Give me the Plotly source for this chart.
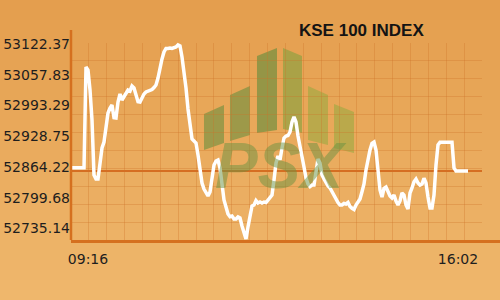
import plotly.graph_objects as go

# ---- data ----
index_values = [
    52871.14, 52871.14, 52871.14, 52871.14, 52871.14, 52871.14, 52871.14, 53082.31,
    53076.02, 53034.08, 52971.17, 52855.83, 52847.44, 52847.44, 52876.80, 52912.45,
    52925.03, 52962.78, 52985.85, 52996.33, 53002.62, 52975.99, 52975.36, 53008.91,
    53025.69, 53013.11, 53019.40, 53025.69, 53034.08, 53031.98, 53042.47, 53038.27,
    53021.50, 53009.54, 53008.91, 53019.40, 53025.69, 53029.88, 53031.98, 53033.03,
    53035.13, 53039.32, 53044.56, 53059.24, 53084.41, 53099.08, 53113.76, 53121.10,
    53121.10, 53122.15, 53121.10, 53123.20, 53124.25, 53128.44, 53126.35, 53103.28,
    53073.92, 53038.27, 52994.23, 52954.39, 52931.32, 52927.13, 52922.94, 52897.77,
    52870.51, 52839.06, 52826.47, 52818.09, 52811.79, 52820.18, 52845.35, 52876.80,
    52885.19, 52887.29, 52870.51, 52836.96, 52803.41, 52788.73, 52774.05, 52768.39,
    52769.85, 52763.56, 52763.56, 52767.76, 52765.66, 52748.88, 52732.11, 52721.62,
    52746.79, 52771.95, 52790.82, 52792.92, 52802.36, 52797.12, 52799.21, 52797.12,
    52799.21, 52798.16, 52803.41, 52806.97, 52813.89, 52845.35, 52881.00, 52895.68,
    52887.29, 52912.45, 52933.42, 52937.62, 52938.66, 52946.00, 52966.97, 52977.46,
    52966.97, 52937.62, 52912.45, 52897.77, 52872.61, 52849.54, 52836.96, 52831.72,
    52834.86, 52834.86, 52866.32, 52889.38, 52881.00, 52855.83, 52847.44, 52839.06,
    52832.76, 52828.57, 52820.81, 52812.84, 52803.41, 52798.16, 52792.92, 52792.92,
    52796.07, 52795.02, 52798.16, 52789.78, 52786.00, 52783.49, 52792.92, 52799.21,
    52805.50, 52820.81, 52836.96, 52866.32, 52889.38, 52908.26, 52922.31, 52925.03,
    52908.26, 52862.12, 52824.38, 52809.70, 52827.94, 52830.67, 52820.18, 52811.79,
    52807.60, 52813.89, 52801.31, 52792.92, 52801.31, 52818.09, 52813.89, 52792.92,
    52784.53, 52818.09, 52828.57, 52841.78, 52847.44, 52839.06, 52834.86, 52836.96,
    52848.91, 52839.06, 52809.70, 52786.63, 52786.63, 52813.89, 52876.80, 52918.74,
    52924.40, 52924.40, 52924.40, 52924.40, 52924.40, 52924.40, 52924.40, 52870.51,
    52864.22, 52864.22, 52864.22, 52864.22, 52864.22, 52864.22, 52864.22,
]
sample_index = list(range(len(index_values)))
prev_close = 52864.22
y_tick_values = [53122.37, 53057.83, 52993.29, 52928.75, 52864.22, 52799.68, 52735.14]
x_tick_labels = ["09:16", "16:02"]
x_tick_positions = [8, 193]
title_text = "KSE 100 INDEX"

# ---- layout geometry ----
W, H = 500, 300
ML, MR, MT, MB = 71, 0, 30, 60
PW, PH = W - ML - MR, H - MT - MB


def px2paper(px, py):
    return (px - ML) / PW, (H - MB - py) / PH


shapes = []
# background gradient (top -> bottom)
top_c = (228, 158, 78)
bot_c = (239, 183, 108)
nb = 30
for k in range(nb):
    t = k / (nb - 1)
    c = tuple(round(top_c[j] + (bot_c[j] - top_c[j]) * t) for j in range(3))
    x0, y0 = px2paper(0, k * H / nb)
    x1, y1 = px2paper(W, (k + 1) * H / nb + 1)
    shapes.append(dict(type="rect", xref="paper", yref="paper", x0=x0, x1=x1, y0=y1, y1=y0,
                       fillcolor="rgb(%d,%d,%d)" % c, line=dict(width=0), layer="below"))

# PSX watermark bars (logo decoration)
bars = [
    ((204, 114), (224, 105), (224, 143), (204, 150), "rgba(95,140,60,0.55)"),
    ((230, 95), (250, 86), (250, 135), (230, 141), "rgba(95,140,60,0.55)"),
    ((257, 56), (277, 48), (277, 130), (257, 133), "rgba(95,140,60,0.6)"),
    ((283, 48), (302, 56), (302, 133), (283, 129), "rgba(120,160,60,0.55)"),
    ((308, 86), (328, 95), (328, 145), (308, 140), "rgba(140,170,60,0.5)"),
    ((334, 104), (354, 112), (354, 153), (334, 148), "rgba(140,170,60,0.5)"),
]
for b in bars:
    pts = [px2paper(*p) for p in b[:4]]
    path = "M %f %f L %f %f L %f %f L %f %f Z" % tuple(v for p in pts for v in p)
    shapes.append(dict(type="path", xref="paper", yref="paper", path=path,
                       fillcolor=b[4], line=dict(width=0), layer="below"))

grid_x_end = (482 - ML) / PW
grid_y_end = (H - MB - 43) / PH

# previous close line
shapes.append(dict(type="line", xref="paper", yref="y2", x0=0, x1=grid_x_end,
                   y0=prev_close, y1=prev_close, line=dict(color="#D56E22", width=2),
                   layer="between"))
# left axis line
shapes.append(dict(type="line", xref="paper", yref="paper", x0=0, x1=0, y0=0, y1=1,
                   line=dict(color="#D5701F", width=2.5), layer="above"))

fig = go.Figure()
# helper trace to carry the decorative square grid
fig.add_trace(go.Scatter(x=[None], y=[None], xaxis="x", yaxis="y", showlegend=False,
                         hoverinfo="skip"))
fig.add_trace(go.Scatter(x=sample_index, y=index_values, xaxis="x2", yaxis="y2",
                         mode="lines", line=dict(color="white", width=3.5),
                         showlegend=False))

grid_color = "rgba(205,115,40,0.32)"
fig.update_layout(
    width=W, height=H,
    margin=dict(l=ML, r=MR, t=MT, b=MB, pad=0),
    paper_bgcolor="#E9A65A",
    plot_bgcolor="rgba(0,0,0,0)",
    shapes=shapes,
    xaxis=dict(domain=[0, grid_x_end], range=[0, 23], dtick=1, showgrid=True,
               gridcolor=grid_color, gridwidth=1, showticklabels=False, zeroline=False,
               showline=False, ticks="", anchor="y", fixedrange=True),
    yaxis=dict(domain=[0, grid_y_end], range=[0, 11], dtick=1, showgrid=True,
               gridcolor=grid_color, gridwidth=1, showticklabels=False, zeroline=False,
               showline=False, ticks="", anchor="x", fixedrange=True),
    xaxis2=dict(domain=[0, 1], range=[-0.5, 214], anchor="y2", showgrid=False,
                zeroline=False, showline=True, linecolor="#D5701F", linewidth=2.5,
                tickmode="array", tickvals=x_tick_positions, ticktext=x_tick_labels,
                ticks="", ticklabelstandoff=4,
                tickfont=dict(family="DejaVu Sans", size=14, color="#1E1E1E")),
    yaxis2=dict(domain=[0, 1], range=[52719.53, 53159.90], anchor="x2",
                showgrid=False, zeroline=False, showline=False,
                tickmode="array", tickvals=y_tick_values,
                ticktext=["%.2f" % v for v in y_tick_values], ticks="",
                ticklabelshift=-4,
                tickfont=dict(family="DejaVu Sans", size=14, color="#1E1E1E")),
    annotations=[
        dict(text=title_text, xref="paper", yref="paper", x=px2paper(361, 30)[0],
             y=px2paper(361, 30)[1], showarrow=False, xanchor="center", yanchor="middle",
             font=dict(family="Liberation Sans", size=17, color="#141414", weight="bold")),
        dict(text="<b><i>PSX</i></b>", xref="paper", yref="paper", x=px2paper(280, 166)[0],
             y=px2paper(280, 166)[1], showarrow=False, xanchor="center", yanchor="middle",
             font=dict(family="Liberation Sans", size=64, color="rgba(105,145,65,0.5)")),
    ],
)

fig.write_html("out.html")
